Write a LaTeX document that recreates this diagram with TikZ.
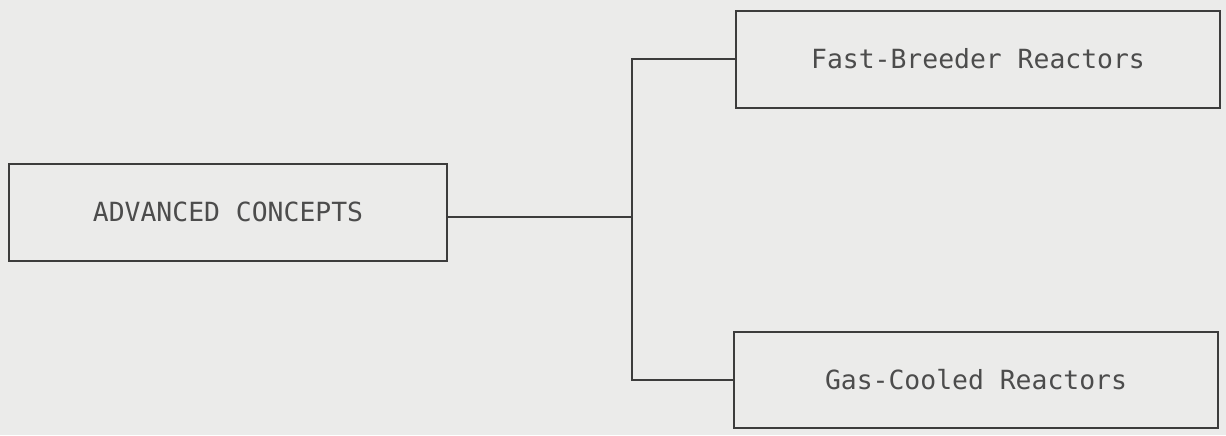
\documentclass[tikz,border=0pt]{standalone}
\usepackage{fontspec}
\setmonofont{DejaVu Sans Mono}
\usepackage{xcolor}
\usepackage{tikz}
\usetikzlibrary{positioning}
\definecolor{paper}{HTML}{EBEBEA}
\definecolor{ink}{HTML}{3C3C3C}
\definecolor{type}{HTML}{4C4C4C}
\tikzset{
  conceptbox/.style={draw=ink,line width=1pt,minimum height=48.5pt,text=type,
    font=\ttfamily\fontsize{13.2}{16}\selectfont},
  branch/.style={draw=ink,line width=1pt}
}

\begin{document}
\begin{tikzpicture}[x=0.5pt,y=-0.5pt]
\fill[paper](0,0)rectangle(1226,435);
\useasboundingbox(0,0)rectangle(1226,435);
\node[conceptbox,minimum width=219pt](adv)at(228,212){ADVANCED CONCEPTS};
\node[conceptbox,minimum width=242pt](fbr)at(978,59){Fast-Breeder Reactors};
\node[conceptbox,minimum width=242pt,minimum height=48pt](gcr)at(976,380){Gas-Cooled Reactors};
\coordinate(j)at(632,217);
\draw[branch]([yshift=-2.5pt]adv.east)--(j);
\draw[branch](fbr.west)-|(j)|-(gcr.west);
\end{tikzpicture}
\end{document}
